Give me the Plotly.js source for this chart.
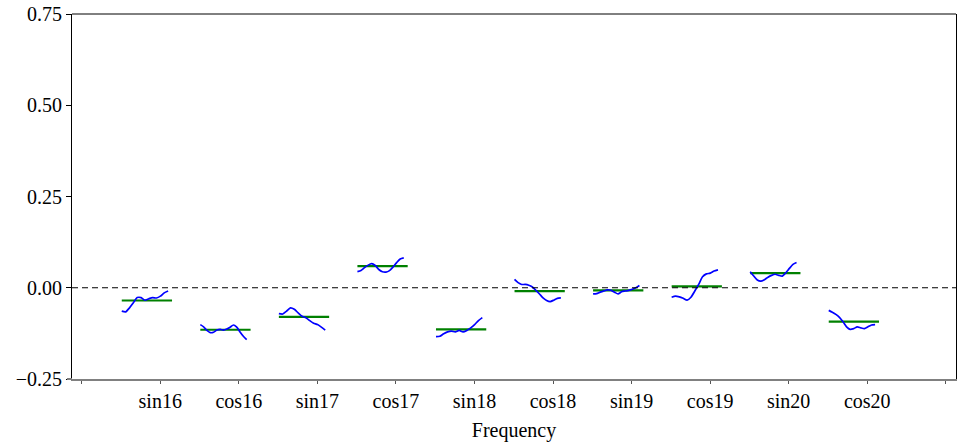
<!DOCTYPE html>
<html>
<head>
<meta charset="utf-8">
<script src="https://cdn.plot.ly/plotly-3.0.1.min.js"></script>
<style>
  html, body { margin: 0; padding: 0; background: #fff; }
  #chart { width: 970px; height: 447px; }
</style>
</head>
<body>
<div id="chart"></div>
<script>
// Cycle-subseries view of the harmonic coefficients, one slot per term.
const categories = ["sin16", "cos16", "sin17", "cos17", "sin18", "cos18", "sin19", "cos19", "sin20", "cos20"];

// Sequence of estimates within each term (plotted left to right inside its slot).
const sin16 = [-0.064, -0.066, -0.055, -0.041, -0.027, -0.027, -0.034, -0.030, -0.027, -0.028, -0.023, -0.014, -0.009];
const cos16 = [-0.101, -0.107, -0.117, -0.123, -0.122, -0.116, -0.114, -0.116, -0.113, -0.108, -0.102, -0.108, -0.121, -0.133, -0.142];
const sin17 = [-0.071, -0.072, -0.064, -0.055, -0.059, -0.069, -0.078, -0.082, -0.090, -0.097, -0.101, -0.108, -0.116];
const cos17 = [0.044, 0.047, 0.055, 0.062, 0.066, 0.061, 0.050, 0.044, 0.043, 0.047, 0.057, 0.069, 0.079, 0.082];
const sin18 = [-0.134, -0.133, -0.126, -0.121, -0.119, -0.121, -0.117, -0.121, -0.117, -0.110, -0.101, -0.090, -0.082];
const cos18 = [0.023, 0.014, 0.009, 0.009, 0.007, 0.002, -0.007, -0.017, -0.028, -0.035, -0.038, -0.034, -0.029, -0.028];
const sin19 = [-0.017, -0.016, -0.012, -0.009, -0.006, -0.007, -0.012, -0.017, -0.011, -0.009, -0.007, -0.004, 0.000, 0.006];
const cos19 = [-0.026, -0.023, -0.025, -0.029, -0.034, -0.026, -0.009, 0.009, 0.030, 0.038, 0.040, 0.046, 0.049];
const sin20 = [0.044, 0.032, 0.021, 0.018, 0.022, 0.029, 0.034, 0.037, 0.034, 0.032, 0.041, 0.053, 0.064, 0.069];
const cos20 = [-0.062, -0.067, -0.073, -0.081, -0.093, -0.107, -0.114, -0.112, -0.107, -0.110, -0.112, -0.107, -0.102, -0.101];

// Mean level of each term.
const means = [-0.035, -0.115, -0.080, 0.059, -0.114, -0.009, -0.007, 0.004, 0.040, -0.093];

const series = [sin16, cos16, sin17, cos17, sin18, cos18, sin19, cos19, sin20, cos20];

// Horizontal extent of a subseries relative to its category position.
const SPAN_START = -0.49, SPAN_END = 0.10, MEAN_END = 0.15;

const traces = [];
series.forEach((vals, i) => {
  const k = i + 1;
  const n = vals.length;
  const xs = vals.map((_, j) => k + SPAN_START + j * (SPAN_END - SPAN_START) / (n - 1));
  traces.push({
    x: [k + SPAN_START, k + MEAN_END],
    y: [means[i], means[i]],
    mode: "lines",
    line: { color: "#008000", width: 2.2 },
    hoverinfo: "skip",
    showlegend: false
  });
  traces.push({
    x: xs,
    y: vals,
    mode: "lines",
    line: { color: "#0000ff", width: 1.7, shape: "spline", smoothing: 0.6 },
    name: categories[i],
    showlegend: false
  });
});

const serif = "'Liberation Serif', 'DejaVu Serif', serif";

const tickPositions = [0].concat(categories.map((_, i) => i + 1), [categories.length + 1]);
const tickLabels = [""].concat(categories, [""]);

const layout = {
  width: 970,
  height: 447,
  margin: { l: 72, r: 14, t: 14, b: 68 },
  paper_bgcolor: "#ffffff",
  plot_bgcolor: "#ffffff",
  font: { family: serif, size: 20, color: "#000" },
  showlegend: false,
  xaxis: {
    range: [-0.1235, 11.13],
    tickmode: "array",
    tickvals: tickPositions,
    ticktext: tickLabels,
    ticks: "outside",
    ticklen: 3,
    tickwidth: 1,
    tickcolor: "#555",
    showline: true,
    linecolor: "#808080",
    linewidth: 2,
    showgrid: false,
    zeroline: false,
    tickfont: { family: serif, size: 20, color: "#000" },
    title: { text: "Frequency", font: { family: serif, size: 20, color: "#000" }, standoff: 12 }
  },
  yaxis: {
    range: [-0.25, 0.75],
    tickmode: "array",
    tickvals: [-0.25, 0, 0.25, 0.5, 0.75],
    tickformat: ".2f",
    ticks: "outside",
    ticklen: 5,
    tickwidth: 1,
    tickcolor: "#000",
    showline: true,
    linecolor: "#000",
    linewidth: 1,
    mirror: true,
    showgrid: false,
    zeroline: false,
    tickfont: { family: serif, size: 20, color: "#000" }
  },
  shapes: [
    // reference line at zero
    { type: "line", xref: "paper", yref: "y", x0: 0, x1: 1, y0: 0, y1: 0,
      line: { color: "#000", width: 1.1, dash: "6px,4px" } },
    // top frame
    { type: "line", xref: "paper", yref: "paper", x0: 0, x1: 1, y0: 1, y1: 1,
      line: { color: "#000", width: 1 } },
    // bottom axis rule, running a little past the left frame
    { type: "line", xref: "paper", yref: "paper", x0: -0.0057, x1: 0, y0: 0, y1: 0,
      line: { color: "#808080", width: 2 } }
  ]
};

Plotly.newPlot("chart", traces, layout, { displayModeBar: false, staticPlot: true });
</script>
</body>
</html>
